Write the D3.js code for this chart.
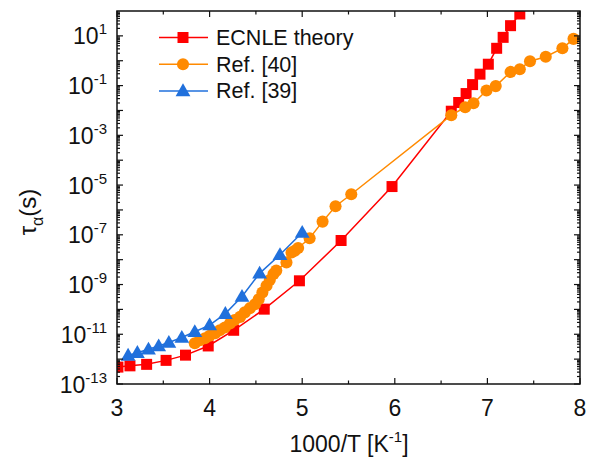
<!DOCTYPE html>
<html>
<head>
<meta charset="utf-8">
<script src="https://cdn.jsdelivr.net/npm/d3@7"></script>
<style>
  body { margin: 0; background: #fff; }
  text { font-family: "Liberation Sans", Arial, sans-serif; fill: #111; }
</style>
</head>
<body>
<svg id="chart" width="591" height="464"></svg>
<script>
// ECNLE theory (1000/T, log10 tau in s)
const ecnleX = [3.01, 3.14, 3.32, 3.53, 3.74, 3.985, 4.26, 4.59, 4.97, 5.42, 5.97, 6.61, 6.69, 6.77, 6.84, 6.92, 7.01, 7.10, 7.17, 7.25, 7.35]
const ecnleY = [-12.32, -12.27, -12.21, -12.05, -11.84, -11.47, -10.84, -9.99, -8.85, -7.23, -5.06, -2.03, -1.68, -1.32, -0.96, -0.54, -0.14, 0.50, 0.94, 1.41, 1.88]

// Ref. [40]
const ref40X = [3.84, 3.895, 3.95, 4.00, 4.06, 4.11, 4.165, 4.22, 4.27, 4.33, 4.38, 4.435, 4.49, 4.53, 4.57, 4.615, 4.65, 4.69, 4.72, 4.83, 4.885, 4.92, 4.956, 5.08, 5.22, 5.36, 5.53,
  6.61, 6.76, 6.85, 6.99, 7.09, 7.25, 7.35, 7.46, 7.63, 7.81, 7.93]
const ref40Y = [-11.36, -11.24, -11.16, -11.06, -10.96, -10.84, -10.73, -10.57, -10.43, -10.30, -10.12, -9.95, -9.79, -9.59, -9.32, -9.05, -8.82, -8.58, -8.44, -8.11, -7.71, -7.64, -7.53, -7.14, -6.47, -5.85, -5.37,
  -2.19, -1.87, -1.71, -1.20, -1.02, -0.45, -0.34, -0.02, 0.16, 0.50, 0.88]

// Ref. [39]
const ref39X = [3.12, 3.22, 3.34, 3.45, 3.56, 3.70, 3.84, 4.00, 4.17, 4.35, 4.54, 4.76, 5.00]
const ref39Y = [-11.85, -11.74, -11.60, -11.47, -11.33, -11.13, -10.90, -10.63, -10.17, -9.48, -8.55, -7.80, -6.91]

const xTicks = [3, 4, 5, 6, 7, 8]
const yLabelExp = [1, -1, -3, -5, -7, -9, -11, -13]
const seriesNames = ['ECNLE theory', 'Ref. [40]', 'Ref. [39]']

const colors = { red: '#ff0000', orange: '#ff8a00', blue: '#2070dc' }

const svg = d3.select('#chart')
const m = { left: 117, right: 580, top: 11, bottom: 384 }

const x = d3.scaleLinear().domain([3, 8]).range([m.left, m.right])
const y = d3.scaleLog().domain([1e-13, 1e2]).range([m.bottom, m.top])

const clip = svg.append('defs').append('clipPath').attr('id', 'clip')
clip.append('rect')
  .attr('x', m.left).attr('y', m.top)
  .attr('width', m.right - m.left).attr('height', m.bottom - m.top)

const toPts = (xs, ys) => xs.map((d, i) => ({ x: d, y: Math.pow(10, ys[i]) }))
const series = [
  { name: seriesNames[0], color: colors.red, shape: 'square', data: toPts(ecnleX, ecnleY) },
  { name: seriesNames[1], color: colors.orange, shape: 'circle', data: toPts(ref40X, ref40Y) },
  { name: seriesNames[2], color: colors.blue, shape: 'triangle', data: toPts(ref39X, ref39Y) }
]

const symbolFor = (shape) => {
  if (shape === 'square') return d3.symbol(d3.symbolSquare, 121)
  if (shape === 'circle') return d3.symbol(d3.symbolCircle, 115)
  return d3.symbol(d3.symbolTriangle, 95)
}

const line = d3.line().x(d => x(d.x)).y(d => y(d.y))
const plot = svg.append('g').attr('clip-path', 'url(#clip)')

series.forEach(s => {
  plot.append('path')
    .datum(s.data)
    .attr('d', line)
    .attr('fill', 'none')
    .attr('stroke', s.color)
    .attr('stroke-width', 1.5)
  plot.selectAll(null)
    .data(s.data)
    .enter().append('path')
    .attr('d', symbolFor(s.shape))
    .attr('transform', d => `translate(${x(d.x)},${y(d.y) + (s.shape === 'triangle' ? 1 : 0)})`)
    .attr('fill', s.color)
})

// frame
svg.append('rect')
  .attr('x', m.left).attr('y', m.top)
  .attr('width', m.right - m.left).attr('height', m.bottom - m.top)
  .attr('fill', 'none').attr('stroke', '#111').attr('stroke-width', 1.5)

// x ticks (inward) on bottom and top
const xMinor = d3.range(3.5, 8, 1)
const ax = svg.append('g').attr('stroke', '#111').attr('stroke-width', 1.2)
xTicks.concat(xMinor).forEach(v => {
  const len = Number.isInteger(v) ? 6 : 3.5
  ax.append('line').attr('x1', x(v)).attr('x2', x(v)).attr('y1', m.bottom).attr('y2', m.bottom - len)
  ax.append('line').attr('x1', x(v)).attr('x2', x(v)).attr('y1', m.top).attr('y2', m.top + len)
})

// y ticks (inward) on left and right, log minors
for (let e = -13; e <= 1; e++) {
  for (let k = 1; k <= 9; k++) {
    const yy = y(k * Math.pow(10, e))
    const len = k === 1 ? 6 : 3
    ax.append('line').attr('x1', m.left).attr('x2', m.left + len).attr('y1', yy).attr('y2', yy)
    ax.append('line').attr('x1', m.right).attr('x2', m.right - len).attr('y1', yy).attr('y2', yy)
  }
}

// x tick labels
svg.append('g').selectAll('text')
  .data(xTicks).enter().append('text')
  .attr('x', d => x(d)).attr('y', 416)
  .attr('text-anchor', 'middle')
  .attr('font-size', 23)
  .text(d => d)

// y tick labels
const yl = svg.append('g').selectAll('text')
  .data(yLabelExp).enter().append('text')
  .attr('x', 107).attr('y', d => y(Math.pow(10, d)) + 8.5)
  .attr('text-anchor', 'end')
  .attr('font-size', 23)
yl.append('tspan').text('10')
yl.append('tspan').attr('dy', -10).attr('font-size', 15).text(d => d)

// x title
const xt = svg.append('text')
  .attr('x', 349).attr('y', 452)
  .attr('text-anchor', 'middle')
  .attr('font-size', 23)
xt.append('tspan').text('1000/T [K')
xt.append('tspan').attr('dy', -10).attr('font-size', 15).text('-1')
xt.append('tspan').attr('dy', 10).text(']')

// y title
const yt = svg.append('text')
  .attr('transform', 'translate(36,212) rotate(-90)')
  .attr('text-anchor', 'middle')
  .attr('font-size', 24)
yt.append('tspan').text('τ')
yt.append('tspan').attr('dy', 7).attr('font-size', 16).text('α')
yt.append('tspan').attr('dy', -7).text('(s)')

// legend
const lg = svg.append('g')
series.forEach((s, i) => {
  const ly = 37.5 + i * 26.7
  lg.append('line').attr('x1', 159).attr('x2', 208).attr('y1', ly).attr('y2', ly)
    .attr('stroke', s.color).attr('stroke-width', 1.5)
  lg.append('path').attr('d', symbolFor(s.shape))
    .attr('transform', `translate(183,${ly + (s.shape === 'triangle' ? 1 : 0)})`)
    .attr('fill', s.color)
  lg.append('text').attr('x', 216).attr('y', ly + 7.5)
    .attr('font-size', 21.5).text(s.name)
})
</script>
</body>
</html>
